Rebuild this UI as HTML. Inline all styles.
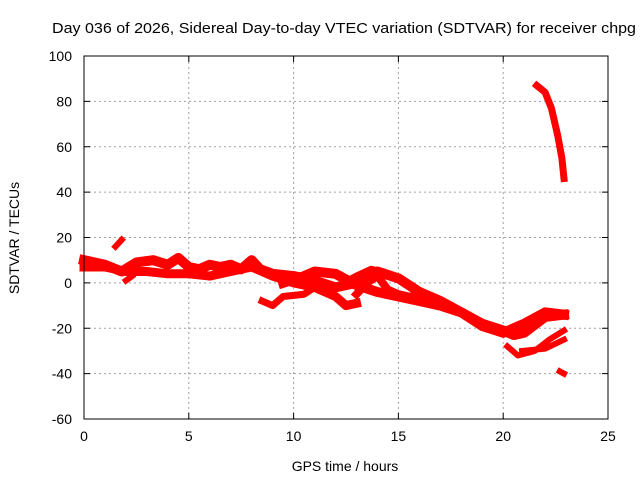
<!DOCTYPE html>
<html><head><meta charset="utf-8"><style>
body{margin:0;background:#fff}
svg{font-family:"Liberation Sans",sans-serif;font-size:14px}
</style></head><body>
<svg id="c" width="640" height="480" xmlns="http://www.w3.org/2000/svg">
<rect width="640" height="480" fill="#fff"/>
<text x="344" y="33" text-anchor="middle" textLength="584" lengthAdjust="spacingAndGlyphs" style="font-size:15px">Day 036 of 2026, Sidereal Day-to-day VTEC variation (SDTVAR) for receiver chpg</text>
<text x="345" y="471" text-anchor="middle">GPS time / hours</text>
<text transform="translate(19,238) rotate(-90)" text-anchor="middle">SDTVAR / TECUs</text>
<g id="grid"></g><g id="series"></g><g id="axes"></g>
</svg>
<script>
const xTicks=[0,5,10,15,20,25];
const yTicks=[-60,-40,-20,0,20,40,60,80,100];
const s1x=[0,1,1.8,2.5,3.3,4,4.5,5,5.5,6,6.5,7,7.5,8,8.4,9,10,11,12,13,14,15,16,17,18,19,20,21,22,22.9];
const s1y=[10,8,5,9,10,8,11,7,6,8,7,8,6,10,6,4,3,1,-2,0,5,2,-4,-8,-13,-19,-22,-18,-13,-14];
const s2x=[0,1,2,3,4,5,6,7,8,9,10,11,12,12.5,13];
const s2y=[7,7,5,5,4,4,3,5,7,3,0,-2,-6,-10,-9];
const s3x=[9.5,10.5,11,12,13,14,15,16,17,18,19,20,20.5,21,22,22.9];
const s3y=[0,3,5,4,-1,-4,-6,-8,-10,-13,-18,-21,-23,-22,-15,-14];
const s4x=[8.5,9,9.5,10.5,11,12,13,13.7,14.5,15.3];
const s4y=[-8,-10,-6,-5,-2,-2,3,6,4,0];
const s5x=[13,13.5,14,14.5,15,15.5,16.5,17.5,18.5];
const s5y=[-5,0,3,-3,-5,-6,-6,-10,-16];
const s6x=[20.2,20.7,21.5,22.2,22.9];
const s6y=[-28,-32,-30,-25,-21];
const s7x=[20.9,22,22.9];
const s7y=[-30,-29,-25];
const s8x=[21.6,22,22.3,22.6,22.8,22.9];
const s8y=[87,84,77,65,55,46];
const s9x=[1.5,1.8];const s9y=[16,19];
const s10x=[2,2.3];const s10y=[1,3];
const s11x=[22.7,22.9];const s11y=[-39,-40];
const X0=84,X1=608,Y0=419,Y1=56;
const sx=v=>X0+(v-0)/25*(X1-X0);
const sy=v=>Y0-(v+60)/160*(Y0-Y1);
const NS="http://www.w3.org/2000/svg";
function mk(t,p,a){const e=document.createElementNS(NS,t);for(const k in a)e.setAttribute(k,a[k]);p.appendChild(e);return e;}
const g=document.getElementById('grid'),ax=document.getElementById('axes'),sg=document.getElementById('series');
xTicks.forEach(t=>{const x=sx(t);
 if(t>0&&t<25){const l=mk('line',g,{x1:x,x2:x,y1:Y0,y2:Y1,stroke:'#a0a0a0','stroke-dasharray':'2,3'});
 
 }
 mk('line',ax,{x1:x,x2:x,y1:Y0,y2:Y0-6,stroke:'#000'});mk('line',ax,{x1:x,x2:x,y1:Y1,y2:Y1+6,stroke:'#000'});
 const tx=mk('text',ax,{x:x,y:Y0+22,'text-anchor':'middle'});tx.textContent=t;
 
 });
yTicks.forEach(t=>{const y=sy(t);
 if(t>-60&&t<100){const l=mk('line',g,{x1:X0,x2:X1,y1:y,y2:y,stroke:'#a0a0a0','stroke-dasharray':'2,3'});
 
 }
 mk('line',ax,{x1:X0,x2:X0+6,y1:y,y2:y,stroke:'#000'});mk('line',ax,{x1:X1,x2:X1-6,y1:y,y2:y,stroke:'#000'});
 const tx=mk('text',ax,{x:X0-12,y:y+5,'text-anchor':'end'});tx.textContent=t;
 
 });
const fr=mk('rect',ax,{x:X0,y:Y1,width:X1-X0,height:Y0-Y1,fill:'none',stroke:'#000'});


const all=[[s1x,s1y,10],[s2x,s2y,9],[s3x,s3y,10],[s4x,s4y,7],[s5x,s5y,8],[s6x,s6y,6],[s7x,s7y,6],[s8x,s8y,7],[s9x,s9y,6],[s10x,s10y,6],[s11x,s11y,6]];
all.forEach((s,i)=>{const pts=s[0].map((v,j)=>sx(v)+','+sy(s[1][j])).join(' ');
 const p=mk('polyline',sg,{points:pts,fill:'none',stroke:'#ff0000','stroke-width':s[2],'stroke-linejoin':'round','stroke-linecap':'square'});
 
 });
</script>
</body></html>
